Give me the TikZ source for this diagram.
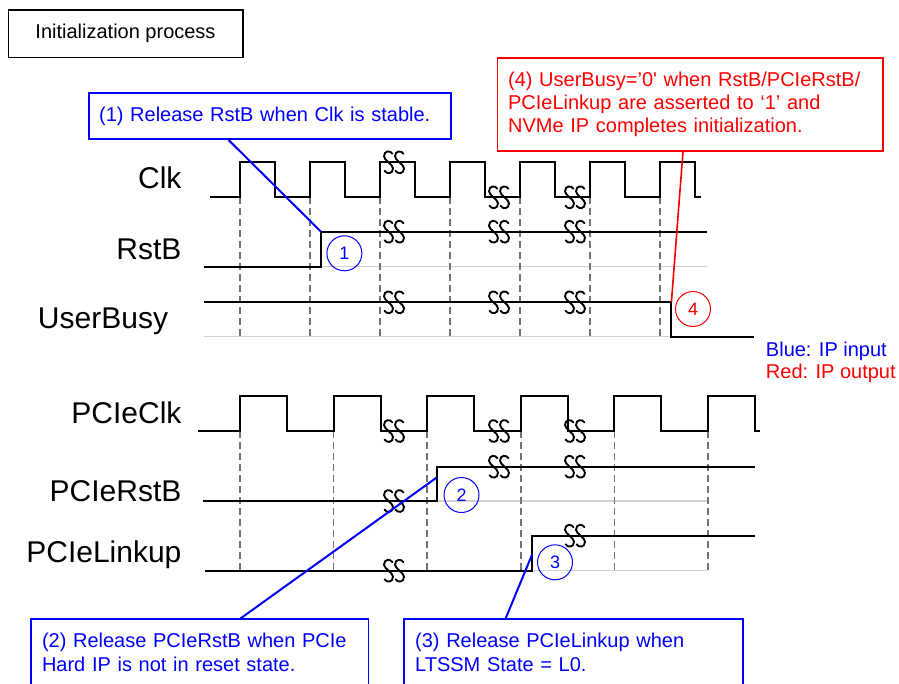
\documentclass[tikz,border=0pt]{standalone}
\usepackage{fontspec}
\setmainfont{Liberation Sans}
\usetikzlibrary{calc}
\definecolor{pblue}{RGB}{0,0,255}
\definecolor{pred}{RGB}{255,0,0}
\begin{document}
\begin{tikzpicture}[x=0.75pt,y=-0.75pt,
  sig/.style={line width=1.5pt},
  tick/.style={dash pattern=on 5.25pt off 3pt, line width=1.1pt, color=black!55},
  base/.style={line width=1.1pt, color=black!18},
  lbl/.style={anchor=base east, inner sep=0pt, font=\fontsize{22.5}{27}\selectfont},
  notebox/.style={draw, line width=1.2pt, anchor=north west, align=left, font=\fontsize{15}{17.25}\selectfont},
  numcirc/.style={circle, draw, line width=0.75pt, minimum size=26.25pt, inner sep=0pt, font=\fontsize{13.5}{16}\selectfont},
  callout/.style={line width=1.5pt},
  brk/.pic={\foreach \d in {-5.5,5.5}{\draw[line width=1.4pt, line cap=round]
      (\d+4,-8.5) .. controls (\d+2,-12) and (\d-4.5,-12) .. (\d-4.5,-6)
      .. controls (\d-4.5,-2) and (\d+4.5,2) .. (\d+4.5,6)
      .. controls (\d+4.5,12) and (\d-2,12) .. (\d-4,8.5);}}
]
\useasboundingbox (0,0) rectangle (899,683);
\clip (0,0) rectangle (899,683);

% title
\node[draw, line width=1.2pt, minimum width=175.8pt, minimum height=35.5pt, inner sep=0pt,
  font=\fontsize{15}{17.25}\selectfont] (title) at (125.5,33.65) {Initialization process};

% signal labels
\node[lbl] (lclk) at (181.7,188.3) {Clk};
\node[lbl] (lrst) at (181.7,259.3) {RstB};
\node[lbl] (lbusy) at (168.3,328.3) {UserBusy};
\node[lbl] (lpclk) at (181.7,423.3) {PCIeClk};
\node[lbl] (lprst) at (181.7,501) {PCIeRstB};
\node[lbl] (llink) at (181.7,562.7) {PCIeLinkup};

% ---------- top section ----------
\draw[base] (321,266.7) -- (707,266.7);
\draw[base] (204,336.7) -- (671.4,336.7);
\foreach \x in {240,310,380,450,520,590,660}
  \draw[tick] (\x,197.3) -- (\x,338);

\draw[sig] (210,197.3) -| (240,162.3) -| (275,197.3) -| (310,162.3) -| (345,197.3)
  -| (380,162.3) -| (415,197.3) -| (450,162.3) -| (485,197.3) -| (520,162.3)
  -| (555,197.3) -| (590,162.3) -| (625,197.3) -| (660,162.3) -| (695,197.3) -- (701,197.3);
\pic at (394,162.3) {brk};
\pic at (499,197.3) {brk};
\pic at (575,197.3) {brk};

\draw[sig] (204,266.7) -| (321,231.7) -- (707,231.7);
\foreach \x in {394,499,575} \pic at (\x,231.7) {brk};

\draw[sig] (204,302.3) -| (671.4,336.7) -- (754,336.7);
\foreach \x in {394,499,575} \pic at (\x,302.3) {brk};

% ---------- bottom section ----------
\draw[base] (437,501) -- (708,501);
\draw[base] (532.3,570.7) -- (708,570.7);
\foreach \x in {240,333.6,427.2,520.8,614.4,708}
  \draw[tick] (\x,431) -- (\x,571.7);

\draw[sig] (198,431) -| (240,395.7) -| (287,431) -| (333.6,395.7) -| (380.6,431)
  -| (427.2,395.7) -| (474.2,431) -| (520.8,395.7) -| (567.8,431) -| (614.4,395.7)
  -| (661.4,431) -| (708,395.7) -| (755,431) -- (760,431);
\foreach \x in {394,499,575} \pic at (\x,431) {brk};

\draw[sig] (203,501) -| (437,466.7) -- (755,466.7);
\pic at (394,501) {brk};
\pic at (499,466.7) {brk};
\pic at (575,466.7) {brk};

\draw[sig] (205,570.7) -| (532.3,535.7) -- (755,535.7);
\pic at (394,570.7) {brk};
\pic at (575,535.7) {brk};

% legend
\node[anchor=base west, inner sep=0pt, text=pblue, font=\fontsize{15}{17.25}\selectfont] (legb) at (765.7,356) {Blue: IP input};
\node[anchor=base west, inner sep=0pt, text=pred, font=\fontsize{15}{17.25}\selectfont] (legr) at (765.7,378.3) {Red: IP output};

% numbered circles
\node[numcirc, draw=pblue, text=pblue] (n1) at (344.4,253.3) {1};
\node[numcirc, draw=pblue, text=pblue] (n2) at (461.5,495) {2};
\node[numcirc, draw=pblue, text=pblue] (n3) at (555,562.3) {3};
\node[numcirc, draw=pred, text=pred] (n4) at (693,309) {4};

% note boxes
\node[notebox, draw=pblue, text=pblue, inner xsep=7.5pt, inner ysep=0pt, text width=256.3pt, minimum height=34.5pt]
  (b1) at (88.3,92.3) {(1) Release RstB when Clk is stable.};
\node[notebox, draw=pred, text=pred, inner xsep=7.95pt, inner ysep=0pt, text width=273.3pt, minimum height=69.5pt]
  (b4) at (496.7,57.3) {(4) UserBusy=’0\textquotesingle{} when RstB/PCIeRstB/\\PCIeLinkup are asserted to `1' and\\NVMe IP completes initialization.};
\node[notebox, draw=pblue, text=pblue, inner xsep=8.4pt, inner ysep=10.35pt, text width=236.5pt,
  font=\fontsize{15}{18}\selectfont]
  (b2) at (30,618.3) {(2) Release PCIeRstB when PCIe\\Hard IP is not in reset state.};
\node[notebox, draw=pblue, text=pblue, inner xsep=8.3pt, inner ysep=10.35pt, text width=237.4pt,
  font=\fontsize{15}{18}\selectfont]
  (b3) at (403.3,618.3) {(3) Release PCIeLinkup when\\LTSSM State = L0.};

% callout connectors
\coordinate (t1) at (321,231.7);
\coordinate (t2) at (437,477.3);
\coordinate (t3) at (532.3,554);
\coordinate (t4) at (671.4,302.3);
\draw[callout, pblue] ($(b1.south west)+(140.2,0)$) -- (t1);
\draw[callout, pblue] ($(b2.north west)+(210.7,0)$) -- (t2);
\draw[callout, pblue] ($(b3.north west)+(102.4,0)$) -- (t3);
\draw[callout, pred, line width=1.2pt] ($(b4.south west)+(186.3,0)$) -- (t4);
\end{tikzpicture}
\end{document}
